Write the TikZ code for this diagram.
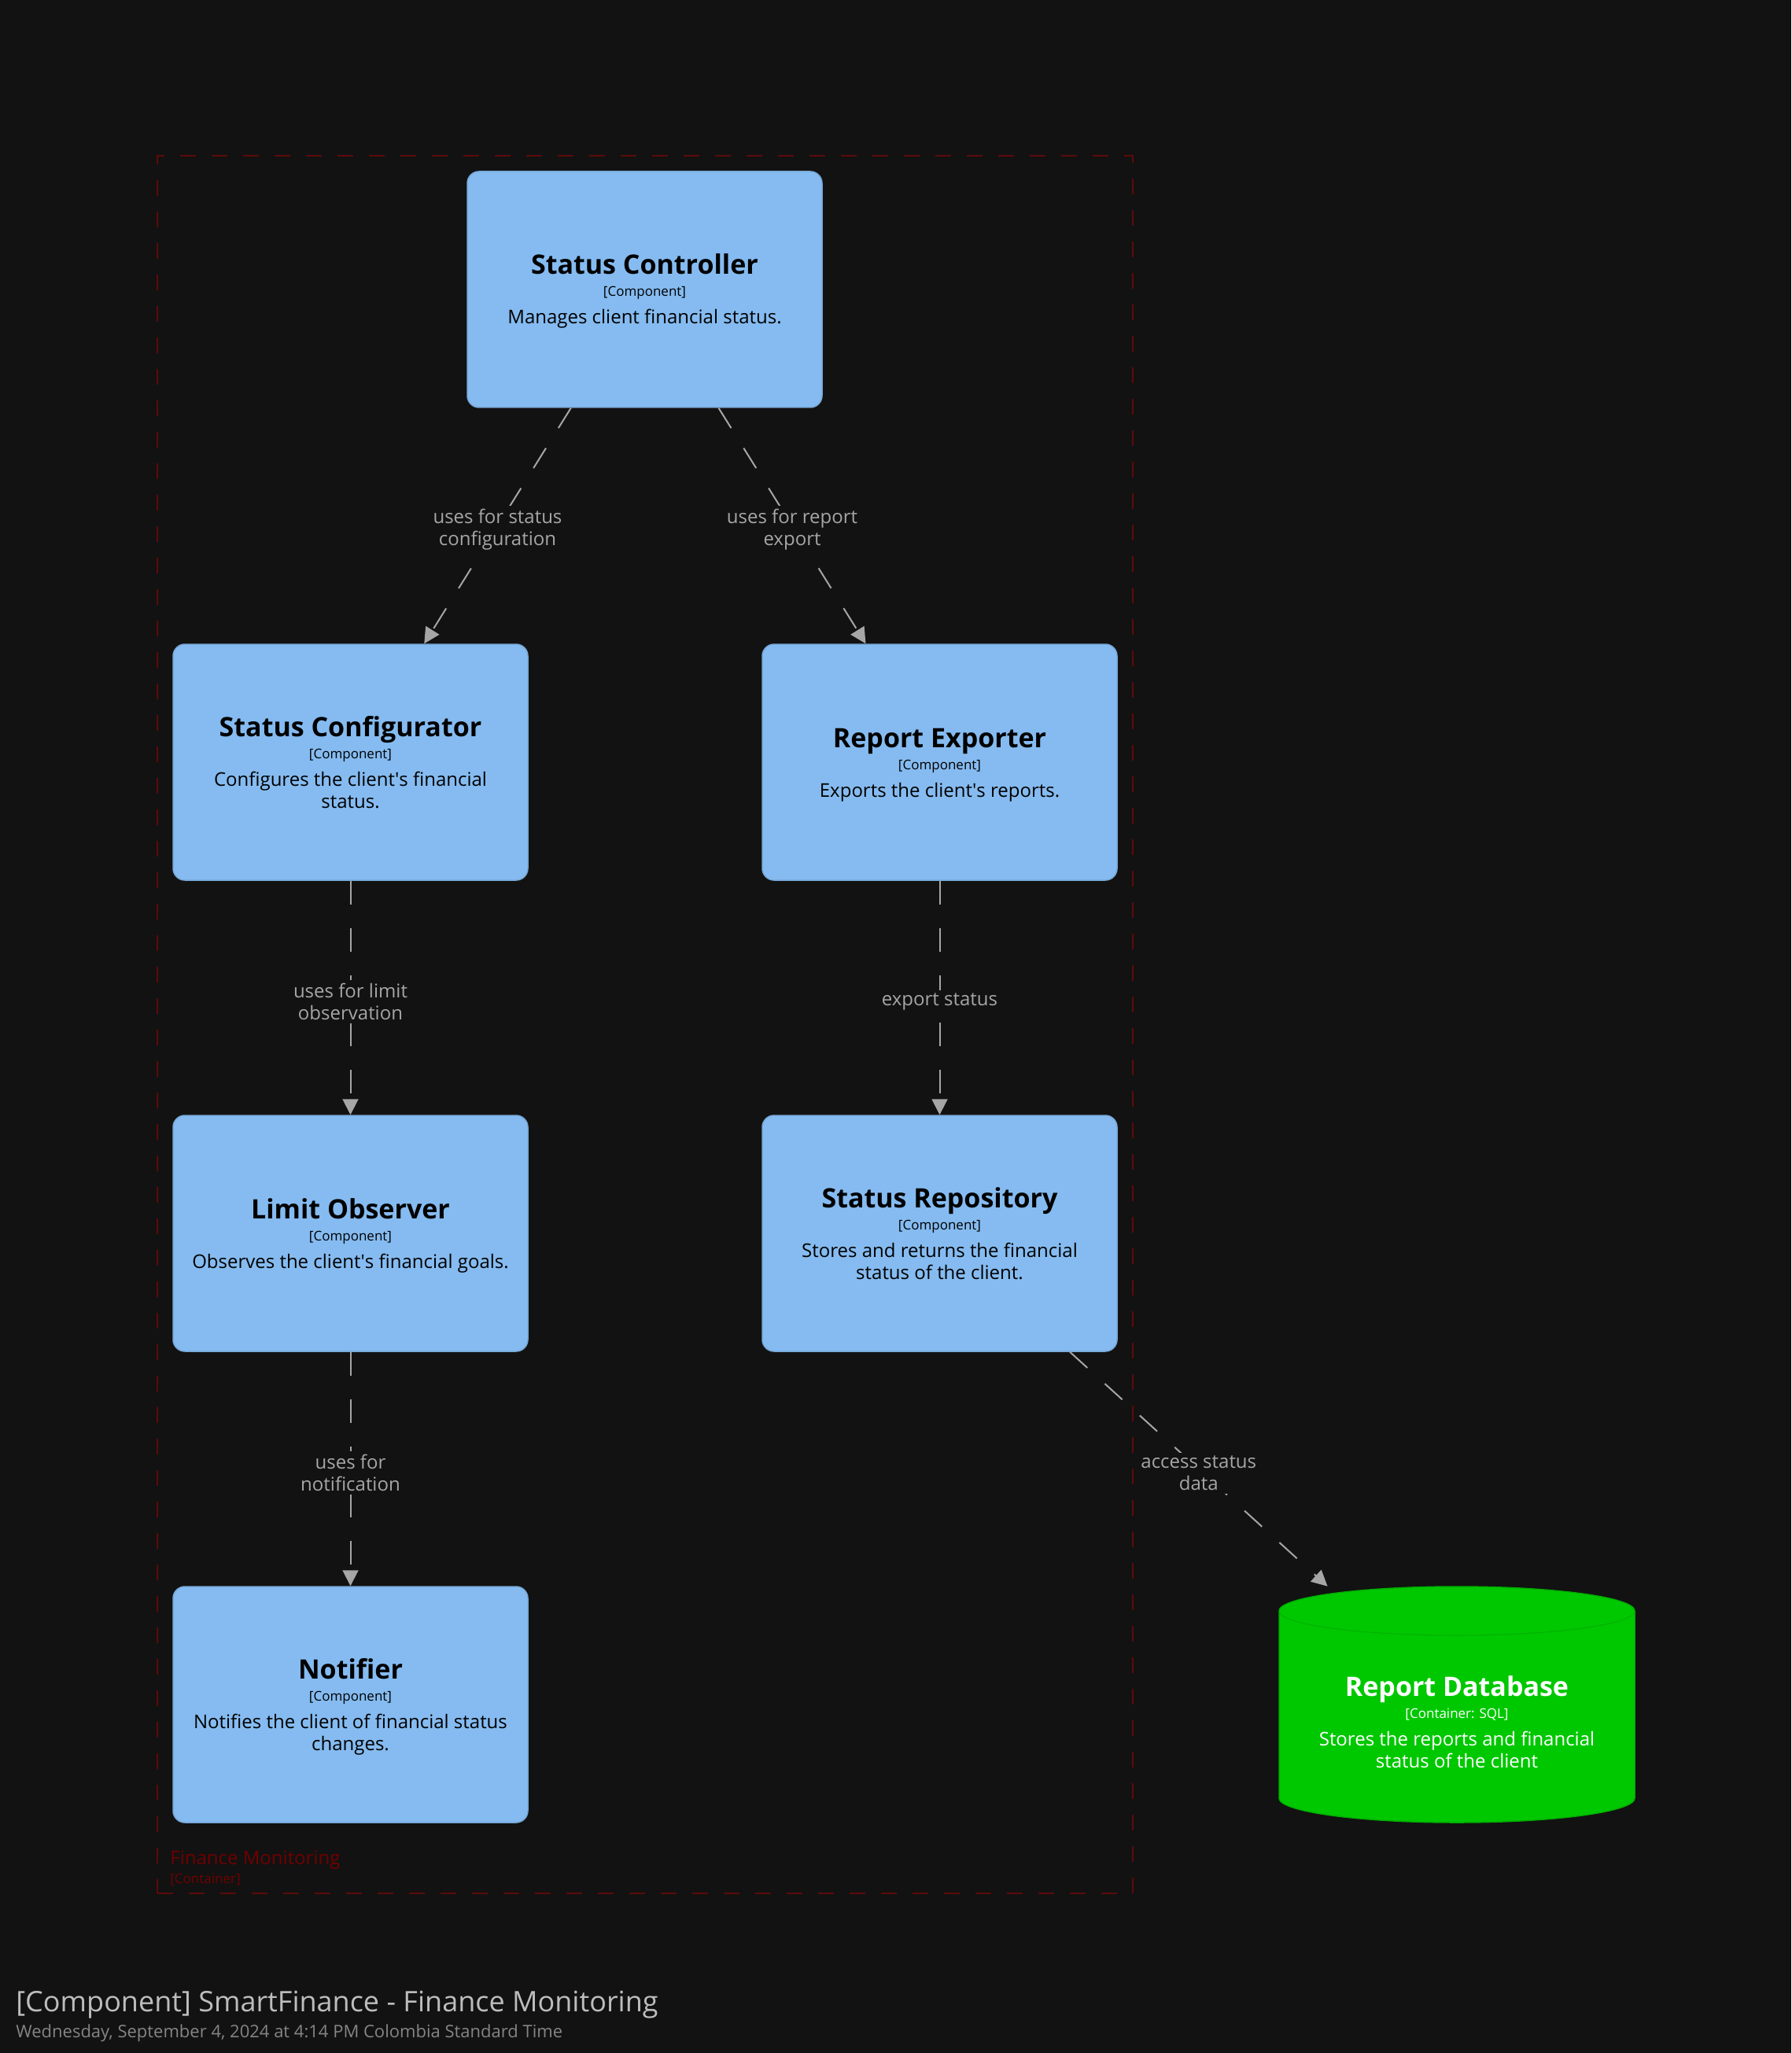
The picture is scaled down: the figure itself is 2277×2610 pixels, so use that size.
\documentclass[tikz,border=0pt]{standalone}
\usepackage{fontspec}
\setmainfont{Open Sans}
\usetikzlibrary{arrows.meta,calc}

\definecolor{bg}{HTML}{121212}
\definecolor{compfill}{HTML}{85BBF0}
\definecolor{compline}{HTML}{78A8D8}
\definecolor{dbfill}{HTML}{00C800}
\definecolor{dbline}{HTML}{00B000}
\definecolor{relgray}{HTML}{A6A6A6}
\definecolor{boundred}{HTML}{5E0A0A}
\definecolor{boundtext}{HTML}{700000}
\definecolor{titlegray}{HTML}{BDBDBD}
\definecolor{subgray}{HTML}{858585}

\newcommand\nametext{\fontsize{17}{20}\selectfont\bfseries}
\newcommand\kindtext{\fontsize{8.5}{10}\selectfont}
\newcommand\bodytext{\fontsize{12}{14}\selectfont}
\newcommand\q{\textquotesingle}

\tikzset{
  comp/.style={draw=compline, fill=compfill, line width=0.75pt, rounded corners=7.5pt,
    minimum width=225.5pt, minimum height=150pt, inner sep=0pt},
  ctitle/.style={anchor=base, inner sep=0pt, font=\nametext},
  ctype/.style={anchor=base, inner sep=0pt, font=\kindtext},
  cdesc/.style={anchor=base, inner sep=0pt, font=\bodytext, align=center},
  rel/.style={draw=relgray, line width=1pt, dash pattern=on 15pt off 15pt,
    -{Triangle[length=10pt,width=10pt]}},
  rellabel/.style={midway, yshift=-2.5pt, fill=bg, text=relgray, font=\bodytext, align=center, inner sep=2pt},
  boundary/.style={draw=boundred, line width=1pt, dash pattern=on 10pt off 10pt,
    minimum width=620pt, minimum height=1104.5pt, inner sep=0pt},
}

% component box with its three text lines; #6 is half a line for two-line descriptions
% (the description node's base is the baseline of its last line)
\newcommand\component[6]{%
  \node[comp] (#1) at (#2,#3) {};
  \node[ctitle] (#1-title) at ($(#1.center)+(0,-19-#6)$) {#4};
  \node[ctype] (#1-type) at ($(#1.center)+(0,9-#6)$) {[Component]};
  \node[cdesc] (#1-desc) at ($(#1.center)+(0,44+#6)$) {#5};
}

\begin{document}
\begin{tikzpicture}[x=0.5pt, y=-0.5pt]
  \fill[bg] (0,0) rectangle (2277,2610);
  \useasboundingbox (0,0) rectangle (2277,2610);

  % container boundary
  \node[boundary] (fm) at (820,1302.5) {};
  \node[anchor=base west, inner sep=0pt, text=boundtext, font=\bodytext] (fm-name) at (216,2370) {Finance Monitoring};
  \node[anchor=base west, inner sep=0pt, text=boundtext, font=\kindtext] (fm-type) at (216,2394) {[Container]};

  % components
  \component{sc}{819.5}{368}{Status Controller}{Manages client financial status.}{0}
  \component{cfg}{445.5}{969}{Status Configurator}{Configures the client\q s financial\\status.}{14}
  \component{exp}{1194.5}{969}{Report Exporter}{Exports the client\q s reports.}{0}
  \component{lim}{445.5}{1568}{Limit Observer}{Observes the client\q s financial goals.}{0}
  \component{repo}{1194.5}{1568}{Status Repository}{Stores and returns the financial\\status of the client.}{14}
  \component{notif}{445.5}{2167}{Notifier}{Notifies the client of financial status\\changes.}{14}

  % database cylinder
  \node[minimum width=225.5pt, minimum height=150pt, inner sep=0pt] (db) at (1852,2167) {};
  \fill[dbfill] (1626,2048) -- (1626,2286)
      arc[start angle=180, end angle=360, x radius=113pt, y radius=15.5pt]
      -- (2078,2048)
      arc[start angle=0, end angle=180, x radius=113pt, y radius=15.5pt] -- cycle;
  \draw[dbline, line width=0.75pt] (1626,2048) -- (1626,2286)
      arc[start angle=180, end angle=360, x radius=113pt, y radius=15.5pt]
      -- (2078,2048)
      arc[start angle=0, end angle=180, x radius=113pt, y radius=15.5pt];
  \draw[dbline, line width=0.5pt] (1626,2048)
      arc[start angle=180, end angle=360, x radius=113pt, y radius=15.5pt];
  \node[ctitle, text=white] (db-title) at ($(db.center)+(0,-11)$) {Report Database};
  \node[ctype, text=white] (db-type) at ($(db.center)+(0,17)$) {[Container: SQL]};
  \node[cdesc, text=white] (db-desc) at ($(db.center)+(0,80)$) {Stores the reports and financial\\status of the client};

  % relationships
  \draw[rel] (sc) -- node[rellabel] {uses for status\\configuration} (cfg);
  \draw[rel] (sc) -- node[rellabel] {uses for report\\export} (exp);
  \draw[rel] (cfg) -- node[rellabel] {uses for limit\\observation} (lim);
  \draw[rel] (exp) -- node[rellabel] {export status} (repo);
  \draw[rel] (lim) -- node[rellabel] {uses for\\notification} (notif);
  \draw[rel] (repo) -- node[rellabel] {access status\\data} (db);

  % caption
  \node[anchor=base west, inner sep=0pt, text=titlegray, font=\fontsize{18}{21}\selectfont] (cap) at (20,2557) {[Component] SmartFinance - Finance Monitoring};
  \node[anchor=base west, inner sep=0pt, text=subgray, font=\fontsize{11}{13}\selectfont] (stamp) at (20,2590) {Wednesday, September 4, 2024 at 4:14 PM Colombia Standard Time};
\end{tikzpicture}
\end{document}
